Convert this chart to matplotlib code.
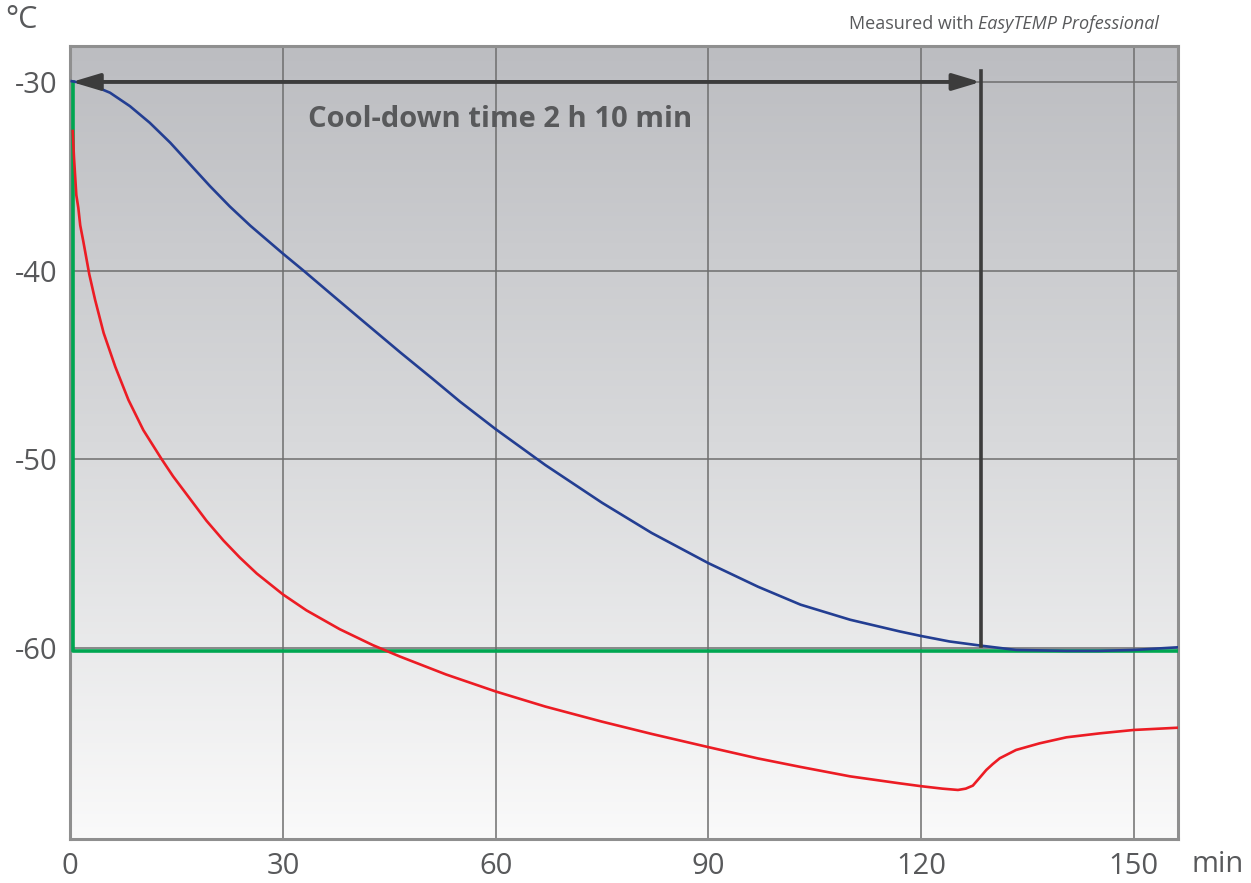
import numpy as np
import matplotlib.pyplot as plt
from matplotlib.colors import LinearSegmentedColormap

plt.rcParams['font.family'] = ['Open Sans', 'DejaVu Sans']
plt.rcParams['axes.unicode_minus'] = False

# time axis in minutes, temperature in °C
t_bath = [0.2, 2.8, 5.6, 8.4, 11.2, 14.1, 16.9, 19.7, 22.5, 25.4, 30.0, 32.9,
          36.5, 40.9, 46.6, 51.0, 55.0, 60.0, 67.0, 75.0, 82.0, 90.0, 97.0,
          103.0, 110.0, 117.0, 120.0, 124.0, 128.4, 133.4, 140.5, 145.0,
          150.0, 156.2]
temp_bath = [-29.96, -30.13, -30.57, -31.28, -32.16, -33.22, -34.37, -35.52,
             -36.6, -37.62, -39.1, -40.0, -41.15, -42.55, -44.35, -45.7,
             -46.95, -48.4, -50.3, -52.3, -53.9, -55.5, -56.75, -57.7, -58.5,
             -59.12, -59.36, -59.65, -59.87, -60.1, -60.15, -60.15, -60.1,
             -59.96]

t_flow = [0.34, 0.52, 0.85, 1.13, 1.4, 1.83, 2.68, 3.5, 4.7, 6.35, 8.2, 10.3,
          12.9, 14.5, 16.9, 19.2, 21.6, 23.9, 26.3, 30.0, 33.3, 38.0, 42.7,
          46.5, 53.0, 60.0, 67.0, 75.0, 82.0, 90.0, 97.0, 103.0, 110.0, 117.0,
          120.0, 123.0, 125.2, 126.3, 127.3, 128.2, 129.2, 130.1, 131.1,
          133.4, 136.7, 140.5, 145.2, 150.0, 156.3]
temp_flow = [-32.6, -34.0, -36.0, -36.67, -37.6, -38.44, -40.2, -41.55, -43.3,
             -45.1, -46.85, -48.45, -50.0, -50.9, -52.1, -53.25, -54.3, -55.2,
             -56.05, -57.16, -58.0, -59.0, -59.85, -60.45, -61.4, -62.3,
             -63.1, -63.9, -64.55, -65.25, -65.85, -66.3, -66.8, -67.17,
             -67.32, -67.45, -67.52, -67.45, -67.29, -66.9, -66.46, -66.15,
             -65.84, -65.4, -65.05, -64.73, -64.52, -64.34, -64.22]

t_set = [0.34, 0.34, 156.3]
temp_set = [-30.0, -60.15, -60.15]

cooldown_end = 128.4
x_ticks = [0, 30, 60, 90, 120, 150]
y_ticks = [-30, -40, -50, -60]

fig = plt.figure(figsize=(12.51, 8.83), dpi=100)
ax = fig.add_axes([0.0562, 0.0498, 0.8858, 0.8982])
xlim = (0, 156.3)
ylim = (-70.12, -28.09)

# grey (top) to white (bottom) background gradient
bg = LinearSegmentedColormap.from_list('bg', ['#bcbdc1', '#d8d9db', '#fafafa'])
grad = np.linspace(0, 1, 256).reshape(-1, 1)
ax.imshow(grad, cmap=bg, aspect='auto', extent=(xlim[0], xlim[1], ylim[0], ylim[1]),
          zorder=0, vmin=0, vmax=1)

ax.plot(t_set, temp_set, color='#00a651', lw=2.6, zorder=3)
ax.plot(t_flow, temp_flow, color='#ec1c24', lw=1.9, zorder=4)
ax.plot(t_bath, temp_bath, color='#233e92', lw=1.9, zorder=5)

# cool-down marker
ax.plot([cooldown_end, cooldown_end], [-29.4, -59.87], color='#3c3c3c', lw=2.6, zorder=6)
ax.annotate('', xy=(0.2, -30), xytext=(cooldown_end, -30),
            arrowprops=dict(arrowstyle='<|-|>,head_length=0.6,head_width=0.18',
                            color='#3c3c3c', lw=2.8, mutation_scale=28,
                            shrinkA=0, shrinkB=0), zorder=6)
ax.text(33.5, -32.0, 'Cool-down time 2 h 10 min', fontsize=21, fontweight='bold',
        color='#58595b', ha='left', va='center', zorder=7)

ax.set_xlim(xlim)
ax.set_ylim(ylim)
ax.set_xticks(x_ticks)
ax.set_yticks(y_ticks)
ax.set_axisbelow(True)
ax.grid(color='#6e6e6e', lw=1.1)
ax.tick_params(length=0, labelsize=21, labelcolor='#58595b', pad=9)
for sp in ax.spines.values():
    sp.set_color('#8f8f8f')
    sp.set_linewidth(2.2)

fig.text(21 / 1251, 1 - 20 / 883, '°C', fontsize=22, color='#58595b',
         ha='center', va='center')
fig.text(1218 / 1251, 1 - 864 / 883, 'min', fontsize=21, color='#58595b',
         ha='center', va='center')

# "Measured with EasyTEMP Professional" top right, product name in italics
t_it = fig.text(1159 / 1251, 1 - 24 / 883, 'EasyTEMP Professional', fontsize=13,
                style='italic', color='#58595b', ha='right', va='center')
fig.canvas.draw()
bb = t_it.get_window_extent()
fig.text((bb.x0 - 4) / 1251, 1 - 24 / 883, 'Measured with', fontsize=13,
         color='#58595b', ha='right', va='center')

fig.savefig('out.png', dpi=100)
